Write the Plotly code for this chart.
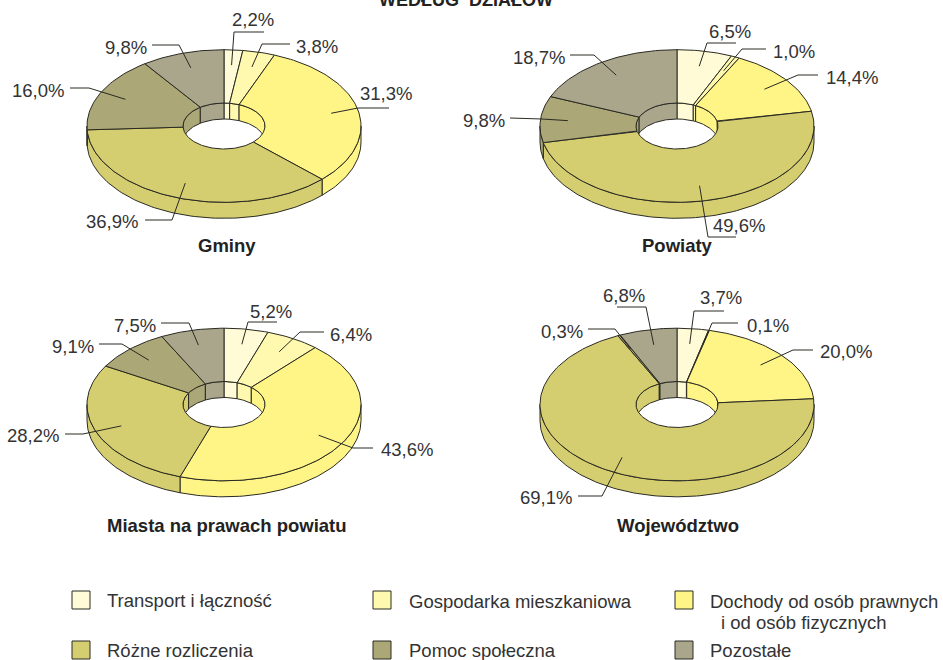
import numpy as np
import plotly.graph_objects as go

# ---- data ----
categories = ["Transport i łączność", "Gospodarka mieszkaniowa", "Dochody od osób prawnych",
              "Różne rozliczenia", "Pomoc społeczna", "Pozostałe"]
gminy = [2.2, 3.8, 31.3, 36.9, 16.0, 9.8]
powiaty = [6.5, 1.0, 14.4, 49.6, 9.8, 18.7]
miasta = [5.2, 6.4, 43.6, 28.2, 9.1, 7.5]
wojewodztwo = [3.7, 0.1, 20.0, 69.1, 0.3, 6.8]
chart_names = ["Gminy", "Powiaty", "Miasta na prawach powiatu", "Województwo"]

# ---- styles and layout ----
colors = ["#FFFBD6", "#FFF9B0", "#FFF587", "#D5CE70", "#ABA776", "#A9A68C"]
INK = "#2a2a22"
TXT = "#333333"
FONT = "Liberation Sans"
SIZE = 18.5
RX, RY, HX, HY, DEPTH = 137, 76.3, 41, 23, 16

# one entry per slice: elbow, line end, label anchor point, label x-anchor
charts = [
    dict(vals=gminy, c=(224, 126), title=(227, 245), items=[
        ((234, 32), (264, 32), (253, 19), "center"),
        ((262, 44), (290, 44), (296, 46), "left"),
        ((358, 108), (389, 108), (386, 93), "center"),
        ((172, 220), (145, 220), (138, 221), "right"),
        ((89, 88), (70, 88), (64, 90), "right"),
        ((179, 45), (152, 45), (147, 47), "right")]),
    dict(vals=powiaty, c=(677, 126), title=(677, 245), items=[
        ((707, 43), (736, 43), (730, 31), "center"),
        ((742, 49), (766, 49), (773, 51), "left"),
        ((798, 75), (818, 75), (826, 77), "left"),
        ((708, 237), (736, 237), (739, 225), "center"),
        ((542, 119), (510, 118), (505, 120), "right"),
        ((594, 55), (570, 55), (565, 57), "right")]),
    dict(vals=miasta, c=(224, 404.5), title=(227, 525), items=[
        ((248, 322), (277, 322), (271, 311), "center"),
        ((300, 332), (324, 332), (330, 334), "left"),
        ((353, 448), (373, 448), (381, 449), "left"),
        ((83, 434), (65, 434), (59, 435), "right"),
        ((122, 344), (99, 344), (94, 346), "right"),
        ((189, 323), (161, 323), (156, 325), "right")]),
    dict(vals=wojewodztwo, c=(677, 404.5), title=(678, 525), items=[
        ((694, 311), (724, 311), (721, 297), "center"),
        ((712, 323), (738, 323), (747, 325), "left"),
        ((793, 350), (813, 350), (820, 351), "left"),
        ((602, 496), (578, 496), (572, 497), "right"),
        ((615, 329), (588, 329), (583, 331), "right"),
        ((646, 307), (617, 307), (624, 295), "center")]),
]
legend_items = [
    (categories[0], 81, 600, 107, 600), (categories[1], 382, 600, 409, 601),
    (categories[2], 684, 600, 710, 601), (categories[3], 81, 650, 107, 650),
    (categories[4], 382, 650, 409, 650), (categories[5], 684, 650, 710, 650),
]


def arc(c, rx, ry, a, b, dy=0):
    n = max(2, int(abs(b - a) / 1.5) + 2)
    t = np.radians(np.linspace(a, b, n))
    return c[0] + rx * np.sin(t), c[1] + dy - ry * np.cos(t)


def poly(xs, ys, color):
    x = np.concatenate(xs)
    y = np.concatenate(ys)
    return go.Scatter(x=np.append(x, x[0]), y=np.append(y, y[0]), mode="lines", fill="toself",
                      fillcolor=color, line=dict(color=INK, width=1), showlegend=False,
                      hoverinfo="skip")


fig = go.Figure()
ann = []
ANCHOR_FIX = {"left": -1.5, "right": 1, "center": 0}


def text(x, y, s, anchor="center", bold=False, size=SIZE, yshift=0):
    ann.append(dict(x=x + ANCHOR_FIX[anchor], y=y, text=f"<b>{s}</b>" if bold else s, showarrow=False,
                    xanchor=anchor, yanchor="middle", xref="x", yref="y", yshift=yshift,
                    font=dict(family=FONT, size=size, color="#222222" if bold else TXT),
                    borderpad=0))


for ch, name in zip(charts, chart_names):
    c = ch["c"]
    edges = np.concatenate([[0], np.cumsum(ch["vals"])]) * 3.6
    spans = list(zip(edges[:-1], edges[1:]))
    # outer wall, front half only
    for (a, b), col in zip(spans, colors):
        lo, hi = max(a, 90), min(b, 270)
        if hi > lo:
            x1, y1 = arc(c, RX, RY, lo, hi)
            x2, y2 = arc(c, RX, RY, hi, lo, DEPTH)
            fig.add_trace(poly([x1, x2], [y1, y2], col))
    # inner wall of the hole, back half only
    for (a, b), col in zip(spans, colors):
        for rlo, rhi in ((0, 90), (270, 360)):
            lo, hi = max(a, rlo), min(b, rhi)
            if hi > lo:
                x1, y1 = arc(c, HX, HY, lo, hi)
                x2, y2 = arc(c, HX, HY, hi, lo, DEPTH)
                fig.add_trace(poly([x1, x2], [y1, y2], col))
    # top face
    for (a, b), col in zip(spans, colors):
        x1, y1 = arc(c, RX, RY, a, b)
        x2, y2 = arc(c, HX, HY, b, a)
        fig.add_trace(poly([x1, x2], [y1, y2], col))
    # leader lines and value labels
    for (a, b), v, (elbow, end, pos, anchor) in zip(spans, ch["vals"], ch["items"]):
        m = np.radians((a + b) / 2)
        ix, iy = c[0] + 0.8 * RX * np.sin(m), c[1] - 0.8 * RY * np.cos(m)
        fig.add_trace(go.Scatter(x=[ix, elbow[0], end[0]], y=[iy, elbow[1], end[1]], mode="lines",
                                 line=dict(color=INK, width=1), showlegend=False, hoverinfo="skip"))
        text(pos[0], pos[1], f"{v:.1f}%".replace(".", ","), anchor)
    text(ch["title"][0], ch["title"][1], name, bold=True)

# legend
for (label, sx, sy, tx, ty), col in zip(legend_items, colors):
    fig.add_trace(go.Scatter(x=[sx], y=[sy], mode="markers", showlegend=False, hoverinfo="skip",
                             marker=dict(symbol="square", size=18, color=col,
                                         line=dict(color=INK, width=1))))
    text(tx, ty, label, "left")
text(721, 622, "i od osób fizycznych", "left")
text(465.5, 0, "WEDŁUG  DZIAŁÓW", bold=True, size=18, yshift=1)

fig.update_layout(
    width=943, height=660, margin=dict(l=0, r=0, t=0, b=0),
    paper_bgcolor="white", plot_bgcolor="white", annotations=ann, showlegend=False,
    xaxis=dict(range=[0, 943], visible=False, fixedrange=True),
    yaxis=dict(range=[660, 0], visible=False, fixedrange=True),
)
fig.write_html("out.html", config=dict(displayModeBar=False),
               post_script="document.body.style.margin='0';document.body.style.overflow='hidden';")
